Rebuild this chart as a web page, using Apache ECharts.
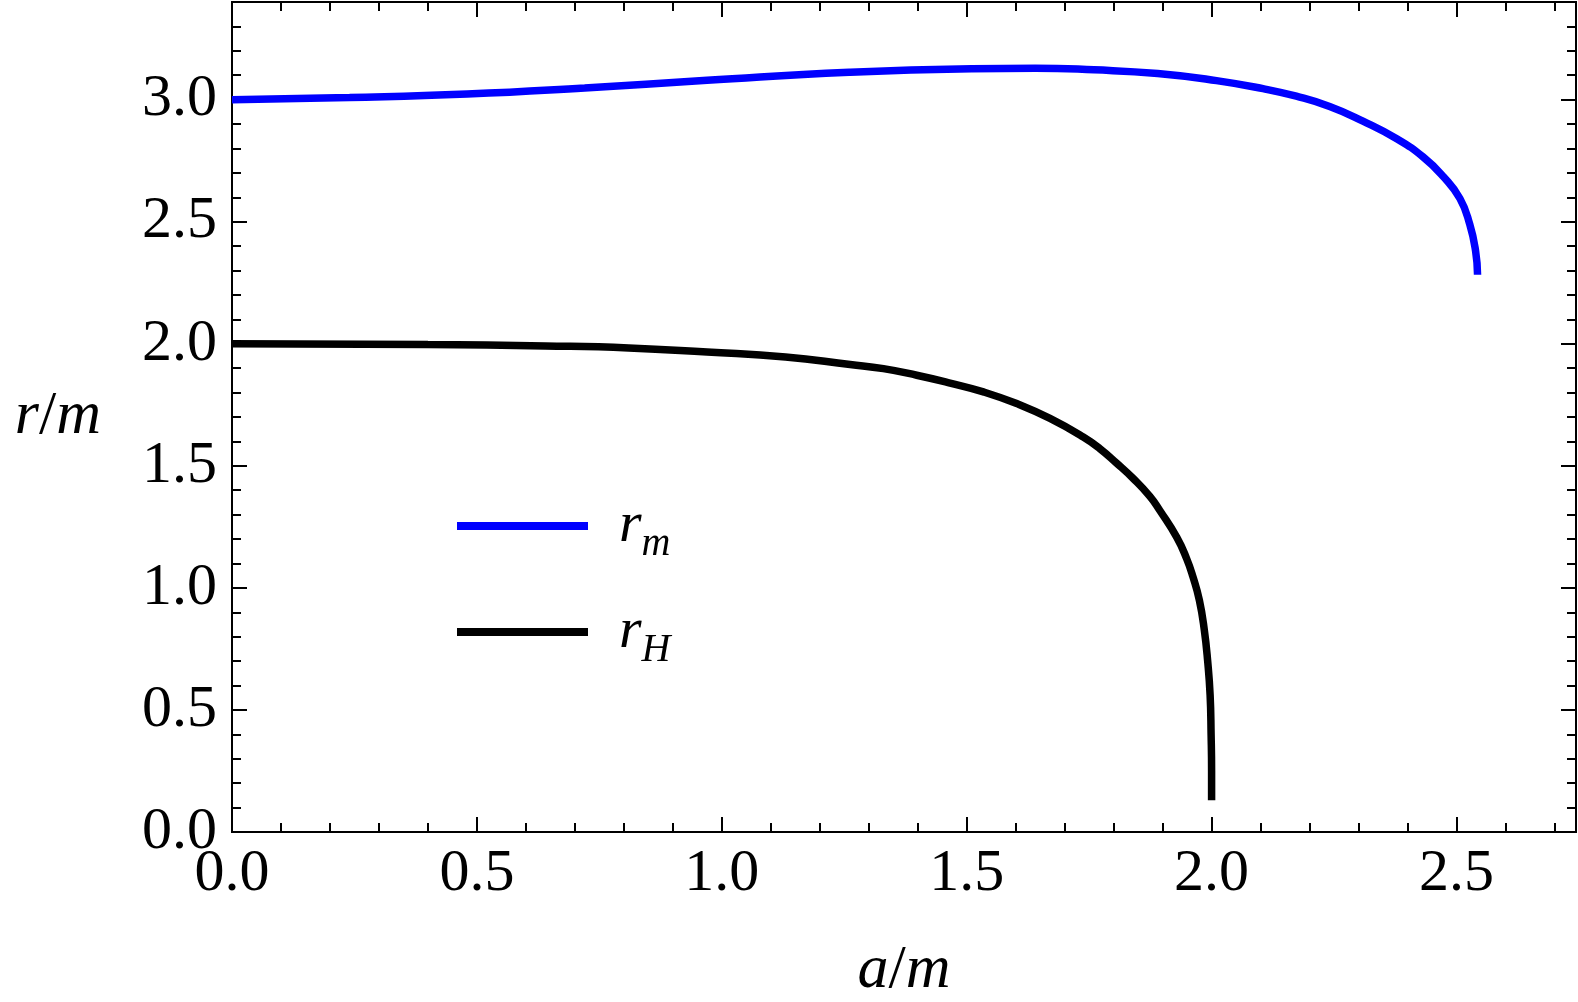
<!DOCTYPE html>
<html>
<head>
<meta charset="utf-8">
<script src="https://cdn.jsdelivr.net/npm/echarts@6/dist/echarts.min.js"></script>
<style>
  html, body { margin: 0; padding: 0; background: #fff; }
  #chart { width: 1578px; height: 1002px; }
</style>
</head>
<body>
<div id="chart"></div>
<script>
// r_m curve (blue)
var rmA = [0, 0.24, 0.48, 0.72, 0.97, 1.26, 1.51, 1.64, 1.76, 1.89, 2.01, 2.105, 2.173, 2.241, 2.309, 2.378, 2.432, 2.473, 2.507, 2.527, 2.539, 2.543]
var rmR = [3.000, 3.009, 3.023, 3.048, 3.079, 3.112, 3.127, 3.129, 3.122, 3.107, 3.078, 3.045, 3.014, 2.972, 2.912, 2.840, 2.765, 2.685, 2.595, 2.490, 2.380, 2.283]
// r_H curve (black)
var rhA = [0, 0.40, 0.64, 0.81, 0.97, 1.13, 1.262, 1.330, 1.398, 1.466, 1.534, 1.602, 1.670, 1.738, 1.772, 1.806, 1.840, 1.874, 1.894, 1.929, 1.949, 1.962, 1.975, 1.985, 1.992, 1.997, 1.999, 2.000, 2.000]
var rhR = [2.000, 1.997, 1.991, 1.983, 1.966, 1.946, 1.915, 1.898, 1.871, 1.839, 1.803, 1.755, 1.694, 1.618, 1.570, 1.511, 1.448, 1.375, 1.318, 1.207, 1.120, 1.045, 0.950, 0.830, 0.700, 0.560, 0.400, 0.250, 0.130]

var xMax = 2.744
var yMax = 3.4
var serif = 'Liberation Serif'

function pairs(xs, ys) {
  return xs.map(function (x, i) { return [x, ys[i]] })
}

function axis(pos, max, step, len, labels) {
  return {
    type: 'value',
    position: pos,
    min: 0,
    max: max,
    interval: step,
    axisLine: { show: true, onZero: false, lineStyle: { color: '#000', width: 2 } },
    axisTick: { show: true, inside: true, length: len, lineStyle: { color: '#000', width: 2 } },
    axisLabel: {
      show: labels,
      showMaxLabel: false,
      color: '#000',
      fontFamily: serif,
      fontSize: 60,
      margin: pos == 'bottom' ? 12 : 15,
      formatter: function (v) { return v.toFixed(1) }
    },
    splitLine: { show: false }
  }
}

var nameRich = {
  i: { fontFamily: serif, fontStyle: 'italic', fontSize: 62, color: '#000' },
  n: { fontFamily: serif, fontSize: 62, color: '#000' }
}

var xMajor = axis('bottom', xMax, 0.5, 15, true)
xMajor.name = '{i|a}{n|/}{i|m}'
xMajor.nameLocation = 'middle'
xMajor.nameGap = 108
xMajor.nameTextStyle = { rich: nameRich }

var yMajor = axis('left', yMax, 0.5, 15, true)
yMajor.name = '{i|r}{n|/}{i|m}'
yMajor.nameLocation = 'middle'
yMajor.nameRotate = 0
yMajor.nameGap = 131
yMajor.nameTextStyle = { rich: nameRich }

var legendRich = {
  b: { fontFamily: serif, fontStyle: 'italic', fontSize: 58, lineHeight: 58, verticalAlign: 'top', padding: [0, 0, 0, 26], color: '#000' },
  s: { fontFamily: serif, fontStyle: 'italic', fontSize: 40, lineHeight: 40, verticalAlign: 'top', padding: [27, 0, 0, 0], color: '#000' }
}

var chart = echarts.init(document.getElementById('chart'))
chart.setOption({
  backgroundColor: '#fff',
  animation: false,
  grid: { left: 232, right: 2, top: 2, bottom: 170, outerBoundsMode: 'none' },
  legend: {
    orient: 'vertical',
    left: 452,
    top: 492,
    itemWidth: 131,
    itemHeight: 8,
    itemGap: 39,
    icon: 'rect',
    data: ['rm', 'rH'],
    formatter: function (name) {
      return name == 'rm' ? '{b|r}{s|m}' : '{b|r}{s|H}'
    },
    textStyle: { rich: legendRich }
  },
  xAxis: [
    xMajor,
    axis('bottom', xMax, 0.1, 9, false),
    axis('top', xMax, 0.5, 15, false),
    axis('top', xMax, 0.1, 9, false)
  ],
  yAxis: [
    yMajor,
    axis('left', yMax, 0.1, 9, false),
    axis('right', yMax, 0.5, 15, false),
    axis('right', yMax, 0.1, 9, false)
  ],
  series: [
    {
      name: 'rm',
      type: 'line',
      data: pairs(rmA, rmR),
      showSymbol: false,
      smooth: 0.5,
      color: '#0000ff',
      lineStyle: { width: 7.5, color: '#0000ff' }
    },
    {
      name: 'rH',
      type: 'line',
      data: pairs(rhA, rhR),
      showSymbol: false,
      smooth: 0.5,
      color: '#000',
      lineStyle: { width: 7.5, color: '#000' }
    }
  ]
})
</script>
</body>
</html>
